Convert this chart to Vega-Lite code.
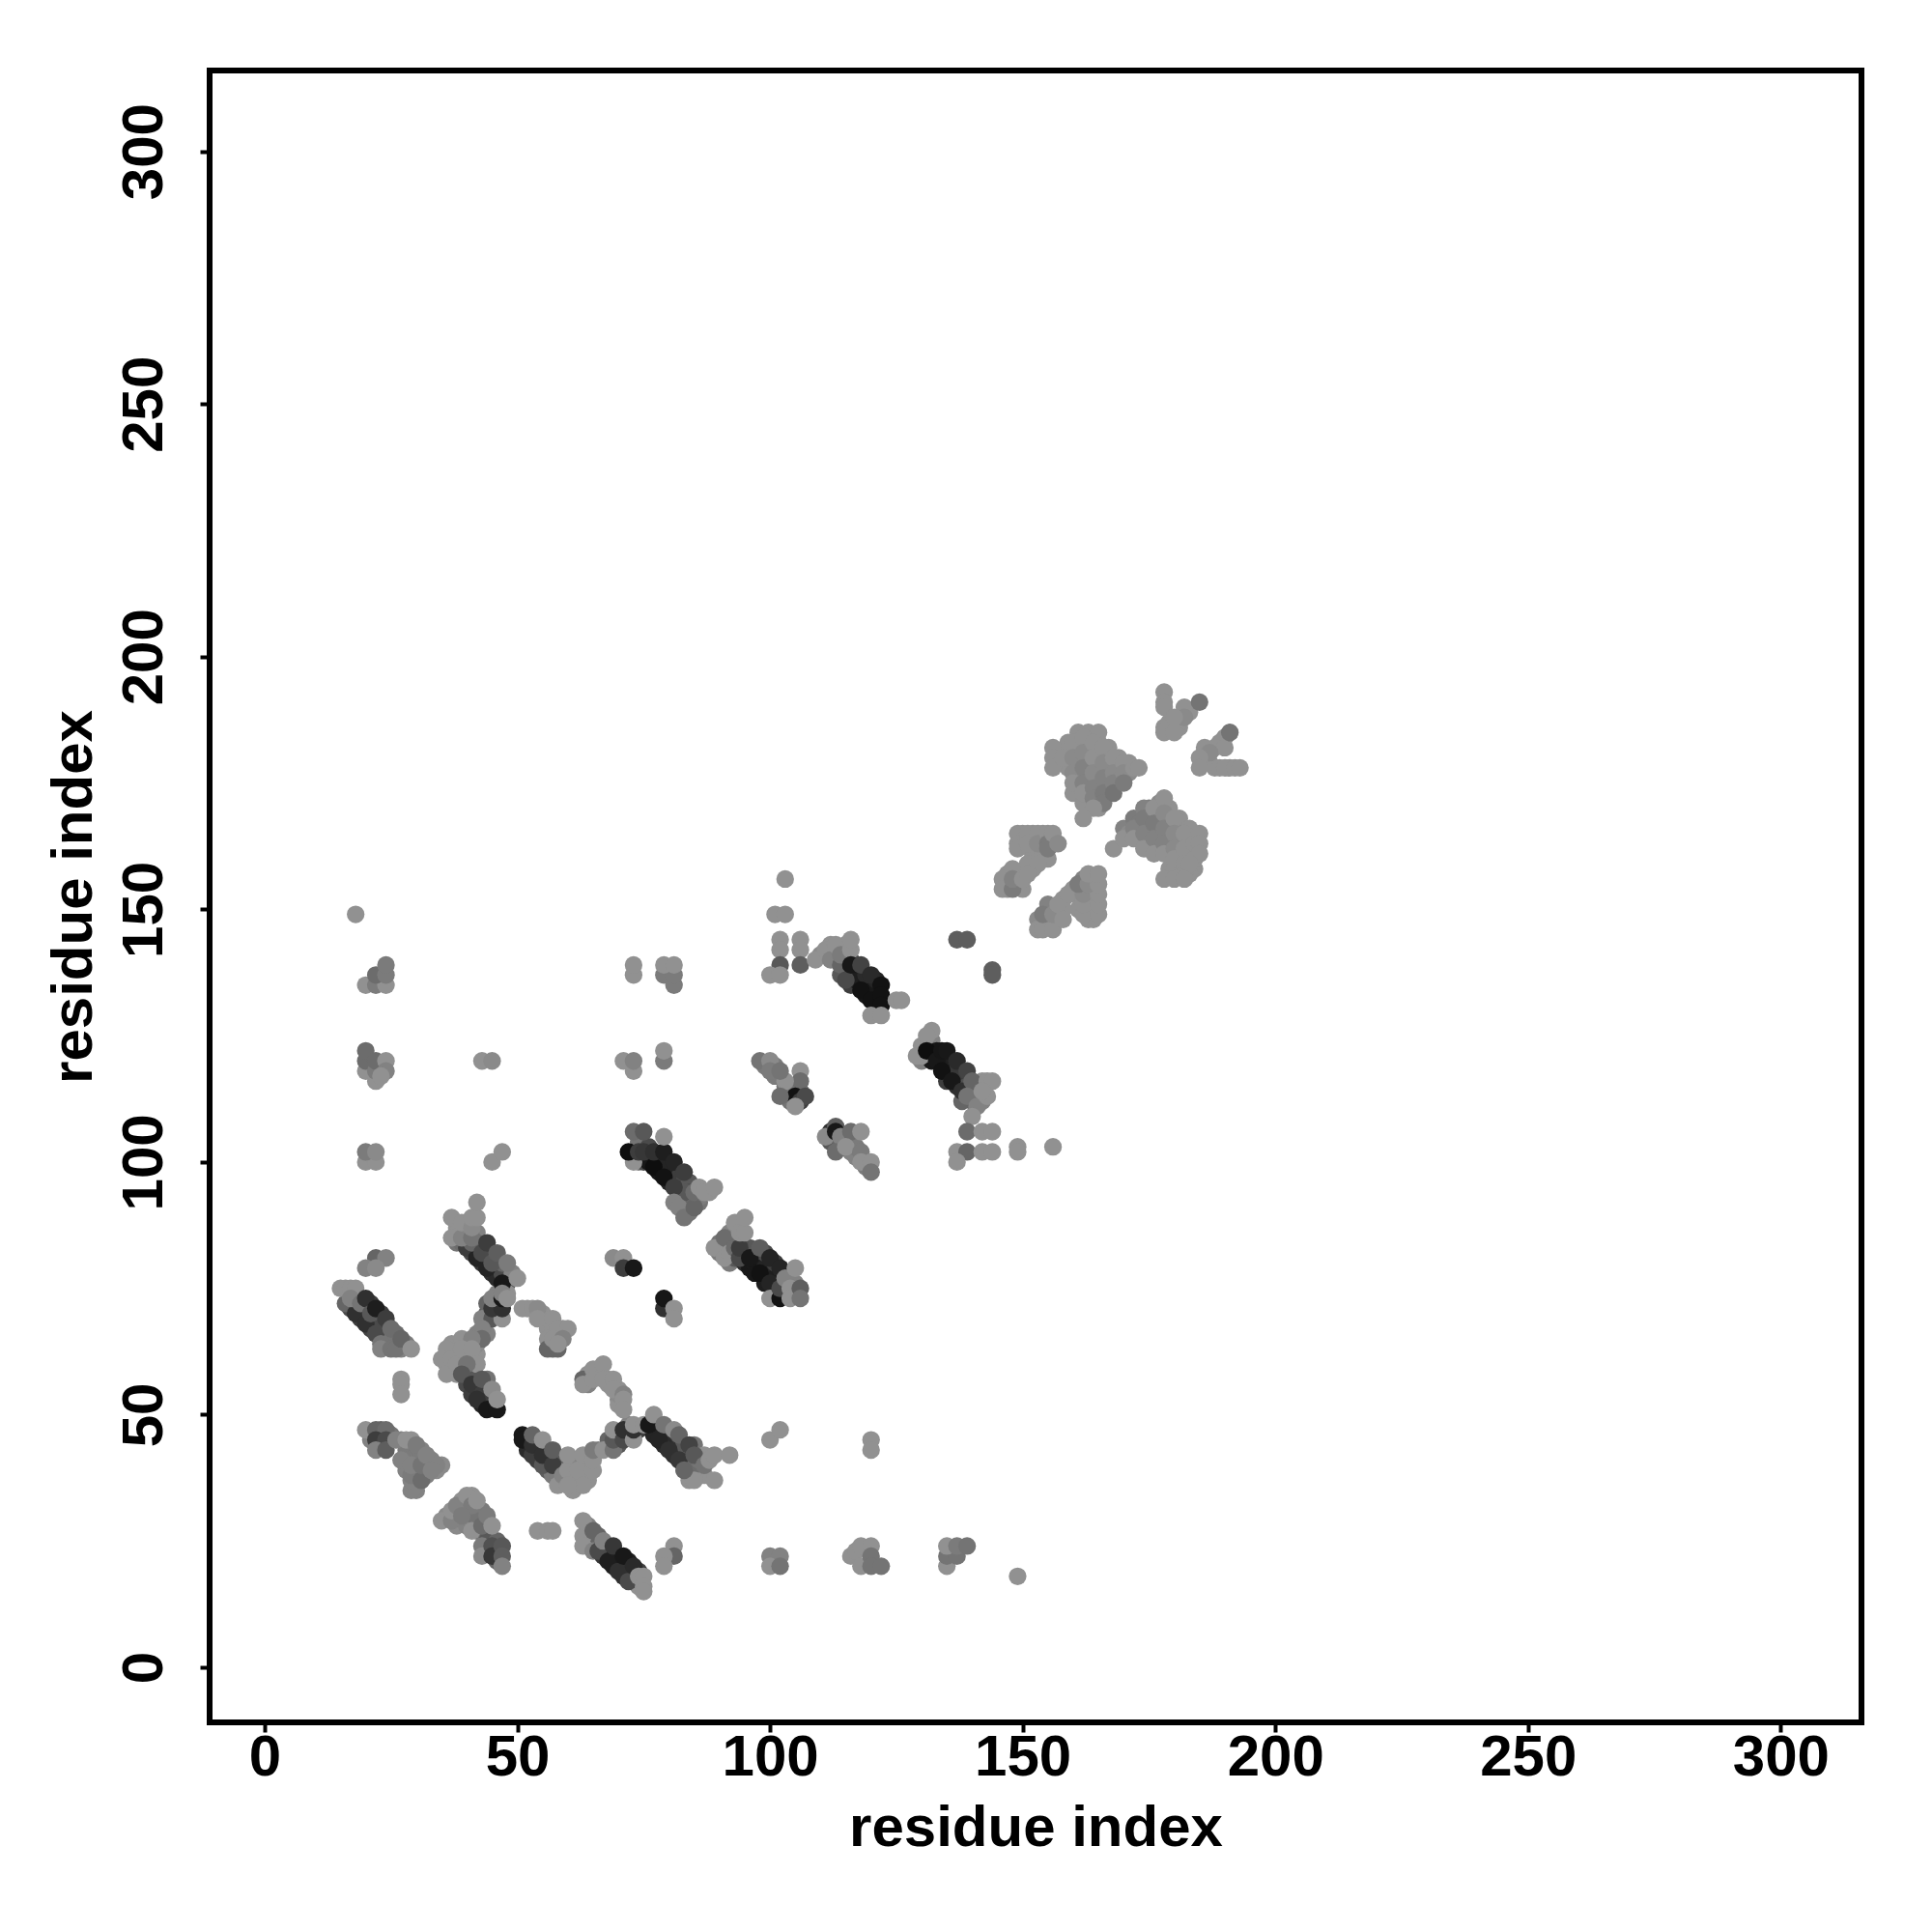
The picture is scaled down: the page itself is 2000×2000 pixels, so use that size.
{"$schema":"https://vega.github.io/schema/vega-lite/v6.json","width":1710,"height":1710,"autosize":{"type":"none"},"padding":{"left":217,"top":73,"right":73,"bottom":217},"background":"white",
"config":{"view":{"stroke":"black","strokeWidth":6,"fill":"white"}},
"data":{"values":[
{"x":17,"y":71,"v":0.5},{"x":19,"y":69,"v":0.4},{"x":21,"y":67,"v":0.45},{"x":23,"y":65,"v":0.7},{"x":24,"y":64,"v":0.8},{"x":19,"y":73,"v":0.7},{"x":20,"y":72,"v":0.5},{"x":21,"y":72,"v":0.4},{"x":22,"y":70,"v":0.4},{"x":23,"y":70,"v":0.4},{"x":24,"y":68,"v":0.5},{"x":25,"y":66,"v":0.7},{"x":26,"y":66,"v":0.75},{"x":26,"y":64,"v":0.85},{"x":27,"y":63,"v":0.9},{"x":24,"y":66,"v":0.7},{"x":23,"y":67,"v":0.6},{"x":22,"y":68,"v":0.5},{"x":25,"y":65,"v":0.8},{"x":28,"y":64,"v":0.85},
{"x":38,"y":84,"v":0.8},{"x":39,"y":84,"v":0.75},{"x":40,"y":85,"v":0.85},{"x":41,"y":82,"v":0.5},{"x":42,"y":83,"v":0.6},{"x":43,"y":80,"v":0.35},{"x":44,"y":81,"v":0.5},{"x":45,"y":78,"v":0.3},{"x":46,"y":79,"v":0.4},{"x":46,"y":77,"v":0.25},{"x":47,"y":78,"v":0.5},{"x":48,"y":76,"v":0.6},{"x":47,"y":80,"v":0.7},{"x":49,"y":78,"v":0.9},{"x":45,"y":82,"v":0.6},{"x":43,"y":84,"v":0.6},{"x":38,"y":87,"v":1},{"x":40,"y":87,"v":1},{"x":38,"y":86,"v":1},{"x":40,"y":86,"v":1},{"x":42,"y":86,"v":0.9},{"x":42,"y":84,"v":0.75},
{"x":44,"y":70,"v":0.6},{"x":46,"y":70,"v":0.5},{"x":46,"y":72,"v":0.4},{"x":44,"y":72,"v":0.7},{"x":48,"y":74,"v":1},{"x":46,"y":74,"v":0.9},
{"x":37,"y":64,"v":1},{"x":38,"y":62,"v":1},{"x":36,"y":60,"v":1},{"x":37,"y":59,"v":1},{"x":38,"y":58,"v":1},{"x":40,"y":62,"v":1},{"x":40,"y":64,"v":1},{"x":42,"y":62,"v":1},{"x":42,"y":64,"v":0.95},{"x":42,"y":66,"v":0.9},{"x":44,"y":66,"v":0.9},{"x":40,"y":58,"v":0.6},{"x":41,"y":58,"v":0.6},{"x":40,"y":56,"v":0.5},{"x":42,"y":55,"v":0.35},{"x":44,"y":53,"v":0.3},{"x":45,"y":52,"v":0.2},{"x":43,"y":52,"v":0.2},{"x":44,"y":55,"v":0.6},{"x":45,"y":53,"v":0.4},{"x":41,"y":54,"v":0.4},{"x":42,"y":57,"v":0.6},{"x":44,"y":57,"v":0.8},
{"x":52,"y":71,"v":1},{"x":55,"y":69,"v":1},{"x":56,"y":69,"v":1},{"x":56,"y":67,"v":1},{"x":57,"y":67,"v":1},{"x":59,"y":67,"v":1},{"x":55,"y":70,"v":1},{"x":58,"y":65,"v":0.9},{"x":56,"y":65,"v":1},{"x":57,"y":63,"v":0.7},
{"x":23,"y":47,"v":0.7},{"x":23,"y":45,"v":0.5},{"x":21,"y":45,"v":0.9},{"x":25,"y":46,"v":0.8},{"x":27,"y":45,"v":0.9},{"x":29,"y":45,"v":1},{"x":29,"y":44,"v":0.9},{"x":31,"y":43,"v":0.9},{"x":31,"y":42,"v":0.9},{"x":33,"y":41,"v":0.9},{"x":35,"y":40,"v":0.95},{"x":28,"y":43,"v":0.85},{"x":30,"y":42,"v":0.85},{"x":28,"y":41,"v":0.85},{"x":30,"y":39,"v":0.9},{"x":30,"y":37,"v":0.9},{"x":32,"y":39,"v":0.9},{"x":32,"y":38,"v":0.9},{"x":34,"y":39,"v":0.95},{"x":28,"y":39,"v":0.9},{"x":30,"y":35,"v":0.9},
{"x":36,"y":30,"v":0.95},{"x":38,"y":30,"v":0.95},{"x":38,"y":28,"v":0.95},{"x":40,"y":28,"v":0.9},{"x":40,"y":30,"v":0.9},{"x":40,"y":32,"v":0.9},{"x":42,"y":31,"v":0.85},{"x":43,"y":31,"v":0.85},{"x":42,"y":29,"v":0.8},{"x":42,"y":27,"v":0.8},{"x":44,"y":27,"v":0.7},{"x":44,"y":25,"v":0.6},{"x":46,"y":25,"v":0.7},{"x":46,"y":23,"v":0.5},{"x":44,"y":23,"v":0.5},{"x":46,"y":21,"v":0.7},{"x":39,"y":33,"v":1},{"x":41,"y":34,"v":1},
{"x":64,"y":28,"v":0.9},{"x":64,"y":25,"v":0.9},{"x":64,"y":26,"v":0.85},{"x":66,"y":26,"v":0.7},{"x":66,"y":25,"v":0.6},{"x":68,"y":24,"v":0.4},{"x":70,"y":22,"v":0.2},{"x":72,"y":21,"v":0.15},{"x":74,"y":19,"v":0.4},{"x":67,"y":22,"v":0.35},{"x":69,"y":20,"v":0.15},{"x":71,"y":18,"v":0.3},{"x":73,"y":17,"v":0.7},{"x":74,"y":16,"v":1},{"x":73,"y":18,"v":0.6},{"x":65,"y":25,"v":0.7},{"x":68,"y":22,"v":0.2},{"x":70,"y":21,"v":0.15},{"x":72,"y":19,"v":0.3},
{"x":52,"y":45,"v":0.15},{"x":52,"y":43,"v":0.25},{"x":54,"y":41,"v":0.4},{"x":54,"y":44,"v":0.3},{"x":56,"y":43,"v":0.4},{"x":56,"y":41,"v":0.4},{"x":58,"y":41,"v":0.6},{"x":56,"y":39,"v":0.65},{"x":57,"y":38,"v":0.85},{"x":58,"y":39,"v":0.75},{"x":58,"y":38,"v":0.85},{"x":60,"y":38,"v":1},{"x":60,"y":37,"v":1},{"x":62,"y":37,"v":1},{"x":59,"y":37,"v":1},{"x":61,"y":38,"v":1},{"x":61,"y":41,"v":0.9},{"x":62,"y":41,"v":0.9},{"x":64,"y":40,"v":1},{"x":64,"y":37,"v":1},{"x":64,"y":42,"v":0.85},{"x":66,"y":43,"v":0.9},{"x":68,"y":44,"v":0.7},{"x":68,"y":45,"v":0.7},{"x":70,"y":46,"v":0.4},{"x":72,"y":46,"v":0.5},{"x":70,"y":44,"v":0.6},{"x":72,"y":48,"v":0.9},{"x":74,"y":47,"v":0.4},
{"x":64,"y":58,"v":1},{"x":64,"y":56,"v":0.9},{"x":66,"y":59,"v":1},{"x":66,"y":58,"v":1},{"x":68,"y":57,"v":1},{"x":68,"y":56,"v":1},{"x":70,"y":55,"v":1},{"x":70,"y":53,"v":0.9},{"x":70,"y":52,"v":1},{"x":70,"y":54,"v":0.95},
{"x":78,"y":47,"v":0.4},{"x":80,"y":45,"v":0.35},{"x":82,"y":43,"v":0.3},{"x":84,"y":41,"v":0.45},{"x":77,"y":46,"v":0.2},{"x":79,"y":44,"v":0.25},{"x":81,"y":42,"v":0.3},{"x":83,"y":40,"v":0.5},{"x":85,"y":39,"v":0.75},{"x":86,"y":38,"v":0.9},{"x":87,"y":38,"v":1},{"x":85,"y":40,"v":0.75},{"x":86,"y":41,"v":0.8},{"x":86,"y":42,"v":0.9},{"x":83,"y":44,"v":0.6},{"x":85,"y":44,"v":0.8},{"x":87,"y":42,"v":1},
{"x":90,"y":84,"v":0.8},{"x":90,"y":82,"v":0.85},{"x":92,"y":80,"v":0.85},{"x":92,"y":84,"v":0.6},{"x":93,"y":81,"v":0.6},{"x":95,"y":80,"v":0.25},{"x":96,"y":79,"v":0.1},{"x":97,"y":80,"v":0.15},{"x":97,"y":78,"v":0.1},{"x":99,"y":79,"v":0.2},{"x":99,"y":76,"v":0.15},{"x":101,"y":75,"v":0.2},{"x":101,"y":77,"v":0.15},{"x":101,"y":80,"v":0.4},{"x":103,"y":75,"v":0.4},{"x":103,"y":74,"v":0.6},{"x":105,"y":74,"v":0.8},{"x":105,"y":76,"v":0.9},{"x":96,"y":83,"v":0.6},{"x":93,"y":86,"v":0.85},{"x":92,"y":86,"v":0.9},{"x":94,"y":84,"v":0.55},{"x":99,"y":82,"v":0.5},
{"x":74,"y":104,"v":0.8},{"x":74,"y":100,"v":0.9},{"x":75,"y":100,"v":0.5},{"x":76,"y":103,"v":0.5},{"x":76,"y":100,"v":0.1},{"x":78,"y":98,"v":0.1},{"x":78,"y":101,"v":0.2},{"x":80,"y":96,"v":0.2},{"x":80,"y":99,"v":0.2},{"x":82,"y":94,"v":0.5},{"x":82,"y":97,"v":0.4},{"x":83,"y":96,"v":0.5},{"x":84,"y":96,"v":0.6},{"x":84,"y":94,"v":0.55},{"x":83,"y":92,"v":0.7},{"x":84,"y":90,"v":0.8},{"x":84,"y":92,"v":0.7},{"x":86,"y":92,"v":0.8},{"x":85,"y":93,"v":0.75},{"x":86,"y":93,"v":0.85},{"x":83,"y":94,"v":0.6},{"x":88,"y":94,"v":1},
{"x":104,"y":113,"v":0.3},{"x":106,"y":114,"v":0.7},{"x":103,"y":114,"v":0.7},{"x":110,"y":141,"v":0.95},{"x":112,"y":142,"v":1},{"x":112,"y":143,"v":1},{"x":113,"y":141,"v":0.9},{"x":115,"y":143,"v":1},{"x":115,"y":140,"v":0.8},{"x":114,"y":137,"v":0.6},{"x":116,"y":137,"v":0.3},{"x":116,"y":135,"v":0.4},{"x":117,"y":138,"v":0.3},{"x":117,"y":136,"v":0.15},{"x":118,"y":136,"v":0.15},{"x":119,"y":135,"v":0.1},{"x":119,"y":133,"v":0.1},{"x":121,"y":133,"v":0.1},{"x":121,"y":131,"v":0.1},{"x":120,"y":134,"v":0.1},{"x":121,"y":136,"v":0.2},{"x":119,"y":137,"v":0.25},{"x":121,"y":130,"v":0.6},{"x":115,"y":141,"v":0.7},{"x":116,"y":140,"v":0.5},
{"x":130,"y":123,"v":1},{"x":130,"y":120,"v":0.9},{"x":132,"y":124,"v":0.9},{"x":132,"y":120,"v":0.1},{"x":133,"y":122,"v":0.1},{"x":132,"y":121,"v":0.1},{"x":134,"y":120,"v":0.1},{"x":135,"y":118,"v":0.1},{"x":136,"y":120,"v":0.15},{"x":135,"y":116,"v":0.4},{"x":136,"y":118,"v":0.2},{"x":137,"y":115,"v":0.3},{"x":137,"y":118,"v":0.35},{"x":138,"y":116,"v":0.4},{"x":139,"y":115,"v":0.55},{"x":140,"y":114,"v":0.7},{"x":141,"y":113,"v":0.8},{"x":141,"y":115,"v":0.8},{"x":141,"y":112,"v":0.85},{"x":142,"y":112,"v":0.9},{"x":142,"y":116,"v":1},{"x":140,"y":112,"v":0.8},{"x":138,"y":112,"v":0.7},
{"x":112,"y":106,"v":0.3},{"x":112,"y":104,"v":0.6},{"x":114,"y":103,"v":0.75},{"x":114,"y":104,"v":0.7},{"x":116,"y":103,"v":0.9},{"x":116,"y":102,"v":0.9},{"x":117,"y":101,"v":0.9},{"x":119,"y":100,"v":0.85},{"x":119,"y":99,"v":0.85},{"x":117,"y":103,"v":0.85},
{"x":99,"y":119,"v":0.85},{"x":101,"y":119,"v":0.85},{"x":101,"y":117,"v":0.85},{"x":103,"y":115,"v":0.8},{"x":103,"y":114,"v":0.8},{"x":104,"y":112,"v":0.8},{"x":105,"y":115,"v":0.85},{"x":106,"y":114,"v":0.8},
{"x":170,"y":166,"v":0.9},{"x":171,"y":165,"v":0.95},{"x":172,"y":168,"v":0.85},{"x":173,"y":167,"v":0.85},{"x":175,"y":170,"v":0.85},{"x":175,"y":166,"v":0.9},{"x":175,"y":163,"v":0.95},{"x":177,"y":171,"v":0.95},{"x":177,"y":168,"v":0.9},{"x":177,"y":165,"v":0.9},{"x":177,"y":162,"v":0.95},{"x":179,"y":170,"v":1},{"x":179,"y":167,"v":0.95},{"x":179,"y":164,"v":0.9},{"x":179,"y":161,"v":1},{"x":181,"y":168,"v":1},{"x":181,"y":165,"v":0.95},{"x":181,"y":162,"v":0.95},{"x":181,"y":159,"v":1},{"x":183,"y":166,"v":1},{"x":183,"y":163,"v":1},{"x":183,"y":161,"v":1},{"x":184,"y":158,"v":1},{"x":181,"y":157,"v":1},{"x":179,"y":158,"v":1},{"x":180,"y":158,"v":1},{"x":182,"y":160,"v":1},{"x":174,"y":170,"v":0.9},{"x":183,"y":157,"v":1},
{"x":159,"y":181,"v":1},{"x":159,"y":178,"v":1},{"x":161,"y":182,"v":1},{"x":161,"y":179,"v":0.95},{"x":161,"y":176,"v":0.95},{"x":163,"y":182,"v":1},{"x":163,"y":179,"v":0.95},{"x":163,"y":176,"v":0.9},{"x":163,"y":173,"v":0.95},{"x":165,"y":183,"v":1},{"x":165,"y":180,"v":0.95},{"x":165,"y":177,"v":0.9},{"x":165,"y":174,"v":0.85},{"x":165,"y":172,"v":0.9},{"x":167,"y":182,"v":1},{"x":167,"y":179,"v":0.95},{"x":167,"y":176,"v":0.9},{"x":167,"y":173,"v":0.85},{"x":169,"y":180,"v":1},{"x":169,"y":177,"v":0.95},{"x":169,"y":175,"v":0.85},{"x":171,"y":179,"v":1},{"x":171,"y":177,"v":0.95},{"x":163,"y":171,"v":1},{"x":165,"y":170,"v":1},{"x":160,"y":173,"v":1},{"x":162,"y":171,"v":1},
{"x":150,"y":165,"v":1},{"x":152,"y":165,"v":1},{"x":154,"y":165,"v":1},{"x":150,"y":163,"v":1},{"x":152,"y":163,"v":1},{"x":154,"y":163,"v":0.95},{"x":156,"y":163,"v":0.9},{"x":154,"y":160,"v":1},{"x":152,"y":161,"v":1},{"x":154,"y":161,"v":1},{"x":147,"y":155,"v":1},{"x":147,"y":157,"v":1},{"x":149,"y":157,"v":0.95},{"x":149,"y":155,"v":0.9},{"x":150,"y":154,"v":1},{"x":147,"y":154,"v":1},{"x":152,"y":158,"v":1},{"x":151,"y":159,"v":1},{"x":155,"y":160,"v":1},
{"x":155,"y":147,"v":0.95},{"x":155,"y":150,"v":0.9},{"x":155,"y":151,"v":0.9},{"x":153,"y":148,"v":0.95},{"x":153,"y":146,"v":1},{"x":156,"y":148,"v":0.95},{"x":157,"y":149,"v":1},{"x":158,"y":152,"v":1},{"x":160,"y":154,"v":1},{"x":162,"y":156,"v":0.9},{"x":164,"y":156,"v":0.95},{"x":164,"y":154,"v":0.95},{"x":164,"y":152,"v":1},{"x":164,"y":150,"v":1},{"x":163,"y":152,"v":1},{"x":163,"y":150,"v":1},{"x":161,"y":150,"v":1},{"x":163,"y":148,"v":1},{"x":164,"y":148,"v":1},{"x":155,"y":148,"v":0.95},{"x":160,"y":153,"v":1},{"x":158,"y":150,"v":1},
{"x":179,"y":186,"v":1},{"x":181,"y":186,"v":1},{"x":181,"y":187,"v":1},{"x":183,"y":189,"v":1},{"x":178,"y":186,"v":1},{"x":179,"y":187,"v":1},{"x":186,"y":180,"v":1},{"x":186,"y":179,"v":1},{"x":188,"y":182,"v":1},{"x":187,"y":179,"v":1},{"x":188,"y":178,"v":1},{"x":189,"y":178,"v":1},{"x":191,"y":178,"v":1},{"x":190,"y":184,"v":1},{"x":186,"y":182,"v":1},
{"x":16,"y":72,"v":0.7},{"x":18,"y":70,"v":0.3},{"x":20,"y":68,"v":0.3},{"x":22,"y":66,"v":0.5},{"x":23,"y":64,"v":0.8},{"x":23,"y":63,"v":0.9},{"x":25,"y":63,"v":0.8},{"x":26,"y":63,"v":0.8},{"x":15,"y":75,"v":1},{"x":16,"y":75,"v":1},{"x":17,"y":75,"v":1},{"x":18,"y":75,"v":1},{"x":17,"y":73,"v":0.9},{"x":19,"y":72,"v":0.8},{"x":20,"y":73,"v":0.3},{"x":21,"y":70,"v":0.6},{"x":22,"y":71,"v":0.15},{"x":24,"y":69,"v":0.4},{"x":25,"y":67,"v":0.75},{"x":27,"y":65,"v":0.7},{"x":29,"y":63,"v":1},
{"x":22,"y":81,"v":0.7},{"x":24,"y":81,"v":0.9},{"x":20,"y":79,"v":0.9},{"x":22,"y":79,"v":0.95},
{"x":40,"y":83,"v":0.4},{"x":42,"y":81,"v":0.2},{"x":44,"y":79,"v":0.2},{"x":47,"y":76,"v":0.1},{"x":41,"y":84,"v":0.7},{"x":43,"y":82,"v":0.5},{"x":45,"y":80,"v":0.6},{"x":37,"y":85,"v":1},{"x":39,"y":85,"v":0.9},{"x":41,"y":85,"v":0.8},{"x":44,"y":84,"v":0.4},{"x":46,"y":82,"v":0.65},{"x":48,"y":80,"v":0.85},{"x":50,"y":77,"v":1},{"x":37,"y":89,"v":1},{"x":39,"y":88,"v":1},{"x":41,"y":87,"v":0.95},{"x":41,"y":89,"v":1},{"x":42,"y":89,"v":1},{"x":42,"y":92,"v":1},
{"x":43,"y":69,"v":0.9},{"x":45,"y":69,"v":0.6},{"x":47,"y":69,"v":1},{"x":45,"y":71,"v":0.35},{"x":47,"y":71,"v":0.3},{"x":45,"y":73,"v":0.9},{"x":47,"y":73,"v":0.1},{"x":47,"y":74,"v":0.9},{"x":48,"y":73,"v":1},
{"x":43,"y":67,"v":0.9},{"x":43,"y":65,"v":0.75},{"x":39,"y":65,"v":1},{"x":41,"y":65,"v":0.9},{"x":36,"y":63,"v":1},{"x":35,"y":61,"v":1},{"x":37,"y":61,"v":1},{"x":36,"y":58,"v":1},{"x":38,"y":60,"v":1},{"x":39,"y":63,"v":1},{"x":41,"y":63,"v":1},{"x":42,"y":60,"v":1},{"x":40,"y":60,"v":0.8},{"x":39,"y":58,"v":0.6},{"x":41,"y":56,"v":0.35},{"x":43,"y":54,"v":0.4},{"x":42,"y":53,"v":0.3},{"x":44,"y":51,"v":0.1},{"x":46,"y":51,"v":0.1},{"x":43,"y":57,"v":0.6},{"x":45,"y":55,"v":0.95},{"x":46,"y":53,"v":1},
{"x":51,"y":71,"v":1},{"x":53,"y":71,"v":1},{"x":54,"y":71,"v":0.95},{"x":54,"y":69,"v":1},{"x":57,"y":69,"v":1},{"x":58,"y":67,"v":1},{"x":60,"y":67,"v":1},{"x":56,"y":63,"v":0.7},{"x":58,"y":63,"v":0.7},{"x":57,"y":65,"v":1},{"x":59,"y":65,"v":0.9},{"x":58,"y":64,"v":1},
{"x":27,"y":57,"v":1},{"x":27,"y":56,"v":1},{"x":27,"y":54,"v":1},
{"x":20,"y":47,"v":1},{"x":22,"y":47,"v":0.7},{"x":24,"y":47,"v":0.75},{"x":22,"y":45,"v":0.4},{"x":24,"y":45,"v":0.5},{"x":22,"y":43,"v":0.9},{"x":24,"y":43,"v":0.65},{"x":26,"y":45,"v":0.9},{"x":28,"y":45,"v":1},{"x":27,"y":41,"v":0.9},{"x":29,"y":35,"v":0.9},{"x":29,"y":37,"v":0.9},{"x":29,"y":38,"v":0.85},{"x":31,"y":37,"v":0.75},{"x":29,"y":40,"v":0.9},{"x":31,"y":40,"v":0.8},{"x":30,"y":44,"v":0.85},{"x":32,"y":42,"v":0.9},{"x":34,"y":40,"v":0.9},{"x":33,"y":39,"v":0.9},
{"x":35,"y":29,"v":1},{"x":37,"y":29,"v":0.9},{"x":37,"y":31,"v":1},{"x":38,"y":32,"v":0.9},{"x":40,"y":34,"v":1},{"x":41,"y":32,"v":0.85},{"x":39,"y":30,"v":0.85},{"x":41,"y":27,"v":1},{"x":42,"y":33,"v":1},{"x":43,"y":28,"v":0.75},{"x":44,"y":30,"v":0.85},{"x":45,"y":28,"v":1},{"x":43,"y":24,"v":0.85},{"x":43,"y":22,"v":0.95},{"x":45,"y":24,"v":0.55},{"x":45,"y":22,"v":0.35},{"x":47,"y":24,"v":0.6},{"x":47,"y":22,"v":0.65},{"x":47,"y":20,"v":0.9},
{"x":54,"y":27,"v":1},{"x":56,"y":27,"v":1},{"x":57,"y":27,"v":1},
{"x":63,"y":26,"v":1},{"x":63,"y":24,"v":1},{"x":65,"y":23,"v":0.9},{"x":66,"y":23,"v":0.5},{"x":68,"y":21,"v":0.15},{"x":70,"y":19,"v":0.3},{"x":72,"y":17,"v":0.5},{"x":63,"y":29,"v":1},{"x":65,"y":27,"v":0.7},{"x":67,"y":25,"v":0.9},{"x":69,"y":24,"v":0.35},{"x":71,"y":22,"v":0.1},{"x":73,"y":20,"v":0.25},{"x":74,"y":18,"v":1},{"x":75,"y":18,"v":1},{"x":75,"y":16,"v":1},{"x":75,"y":15,"v":1},
{"x":81,"y":24,"v":1},{"x":81,"y":22,"v":0.7},{"x":79,"y":22,"v":1},{"x":79,"y":20,"v":1},
{"x":51,"y":46,"v":0.1},{"x":51,"y":45,"v":0.1},{"x":53,"y":42,"v":0.4},{"x":55,"y":40,"v":0.6},{"x":53,"y":44,"v":0.3},{"x":55,"y":42,"v":0.3},{"x":57,"y":40,"v":0.4},{"x":58,"y":36,"v":1},{"x":59,"y":38,"v":0.9},{"x":60,"y":39,"v":1},{"x":61,"y":35,"v":1},{"x":62,"y":39,"v":1},{"x":63,"y":36,"v":1},{"x":60,"y":36,"v":1},{"x":53,"y":46,"v":0.7},{"x":55,"y":45,"v":1},{"x":57,"y":43,"v":0.65},{"x":60,"y":42,"v":1},{"x":63,"y":42,"v":1},{"x":65,"y":39,"v":1},{"x":65,"y":41,"v":1},{"x":65,"y":43,"v":0.85},{"x":67,"y":43,"v":1},{"x":69,"y":43,"v":0.8},{"x":69,"y":45,"v":0.6},{"x":69,"y":47,"v":1},{"x":71,"y":45,"v":0.5},{"x":71,"y":47,"v":0.3},{"x":73,"y":45,"v":1},{"x":73,"y":47,"v":0.3},{"x":73,"y":48,"v":1},{"x":75,"y":48,"v":1},
{"x":63,"y":57,"v":0.7},{"x":63,"y":56,"v":1},{"x":65,"y":59,"v":1},{"x":65,"y":57,"v":1},{"x":67,"y":60,"v":1},{"x":67,"y":57,"v":1},{"x":69,"y":57,"v":1},{"x":69,"y":55,"v":1},{"x":71,"y":54,"v":0.9},{"x":71,"y":53,"v":1},{"x":71,"y":51,"v":1},
{"x":76,"y":48,"v":0.1},{"x":78,"y":45,"v":0.2},{"x":80,"y":43,"v":0.3},{"x":82,"y":41,"v":0.35},{"x":84,"y":37,"v":1},{"x":85,"y":37,"v":1},{"x":83,"y":39,"v":0.7},{"x":77,"y":50,"v":1},{"x":79,"y":48,"v":0.8},{"x":81,"y":47,"v":0.95},{"x":82,"y":46,"v":0.7},{"x":84,"y":44,"v":0.45},{"x":85,"y":42,"v":0.6},{"x":87,"y":40,"v":0.8},{"x":88,"y":41,"v":1},{"x":89,"y":42,"v":1},{"x":92,"y":42,"v":1},{"x":89,"y":37,"v":1},
{"x":100,"y":45,"v":1},{"x":102,"y":47,"v":1},{"x":120,"y":45,"v":1},{"x":120,"y":43,"v":1},
{"x":100,"y":22,"v":0.9},{"x":102,"y":22,"v":0.9},{"x":100,"y":20,"v":1},{"x":102,"y":20,"v":0.8},
{"x":116,"y":22,"v":1},{"x":117,"y":23,"v":1},{"x":118,"y":24,"v":1},{"x":120,"y":24,"v":1},{"x":118,"y":20,"v":1},{"x":120,"y":22,"v":0.8},{"x":120,"y":20,"v":0.8},{"x":122,"y":20,"v":0.8},
{"x":135,"y":20,"v":1},{"x":135,"y":22,"v":0.8},{"x":137,"y":22,"v":0.8},{"x":135,"y":24,"v":1},{"x":137,"y":24,"v":0.85},{"x":139,"y":24,"v":0.8},{"x":149,"y":18,"v":1},
{"x":69,"y":81,"v":0.95},{"x":71,"y":81,"v":1},{"x":71,"y":79,"v":0.4},{"x":73,"y":79,"v":0.1},
{"x":79,"y":71,"v":0.3},{"x":79,"y":73,"v":0.08},{"x":81,"y":71,"v":1},{"x":81,"y":69,"v":1},
{"x":89,"y":83,"v":1},{"x":91,"y":81,"v":1},{"x":91,"y":85,"v":0.75},{"x":92,"y":82,"v":1},{"x":93,"y":83,"v":0.75},{"x":94,"y":81,"v":0.5},{"x":94,"y":83,"v":0.4},{"x":96,"y":81,"v":0.1},{"x":98,"y":78,"v":0.05},{"x":100,"y":76,"v":0.2},{"x":98,"y":83,"v":0.65},{"x":100,"y":81,"v":0.2},{"x":102,"y":79,"v":0.2},{"x":100,"y":73,"v":1},{"x":102,"y":73,"v":0.05},{"x":102,"y":75,"v":0.5},{"x":103,"y":77,"v":0.9},{"x":105,"y":79,"v":1},{"x":104,"y":75,"v":1},{"x":104,"y":73,"v":1},{"x":106,"y":75,"v":0.65},{"x":106,"y":73,"v":0.8},{"x":93,"y":88,"v":1},{"x":94,"y":86,"v":1},{"x":95,"y":86,"v":1},{"x":95,"y":89,"v":1},
{"x":73,"y":106,"v":0.75},{"x":73,"y":100,"v":1},{"x":75,"y":106,"v":0.6},{"x":72,"y":102,"v":0.03},{"x":74,"y":102,"v":0.4},{"x":77,"y":99,"v":0.02},{"x":79,"y":97,"v":0.05},{"x":81,"y":95,"v":0.4},{"x":75,"y":102,"v":0.35},{"x":77,"y":102,"v":0.3},{"x":79,"y":102,"v":0.15},{"x":79,"y":105,"v":1},{"x":81,"y":100,"v":0.2},{"x":83,"y":98,"v":0.4},{"x":81,"y":92,"v":0.9},{"x":82,"y":91,"v":0.9},{"x":83,"y":89,"v":0.8},{"x":85,"y":91,"v":0.7},{"x":85,"y":94,"v":0.75},{"x":86,"y":95,"v":1},{"x":87,"y":94,"v":1},{"x":89,"y":95,"v":1},
{"x":106,"y":118,"v":1},{"x":106,"y":116,"v":0.75},{"x":103,"y":116,"v":1},{"x":105,"y":113,"v":0.05},{"x":106,"y":112,"v":0.4},{"x":107,"y":113,"v":0.5},{"x":105,"y":111,"v":1},{"x":102,"y":113,"v":0.75},{"x":98,"y":120,"v":0.8},{"x":100,"y":120,"v":0.95},{"x":100,"y":118,"v":0.85},{"x":102,"y":118,"v":0.8},
{"x":103,"y":156,"v":1},{"x":101,"y":149,"v":1},{"x":103,"y":149,"v":1},{"x":102,"y":144,"v":1},{"x":102,"y":142,"v":1},{"x":102,"y":139,"v":0.6},{"x":100,"y":137,"v":1},{"x":102,"y":137,"v":1},{"x":106,"y":144,"v":1},{"x":106,"y":142,"v":1},{"x":106,"y":139,"v":0.65},
{"x":109,"y":140,"v":1},{"x":111,"y":142,"v":1},{"x":112,"y":140,"v":0.9},{"x":113,"y":143,"v":1},{"x":114,"y":139,"v":0.7},{"x":115,"y":136,"v":0.5},{"x":114,"y":141,"v":0.85},{"x":116,"y":142,"v":1},{"x":116,"y":139,"v":0.1},{"x":118,"y":134,"v":0.05},{"x":120,"y":132,"v":0.05},{"x":116,"y":144,"v":1},{"x":118,"y":139,"v":0.45},{"x":120,"y":137,"v":0.25},{"x":122,"y":135,"v":0.05},{"x":122,"y":133,"v":0.05},{"x":122,"y":131,"v":0.05},{"x":120,"y":129,"v":1},{"x":122,"y":129,"v":1},{"x":125,"y":132,"v":1},{"x":126,"y":132,"v":1},
{"x":137,"y":144,"v":0.65},{"x":139,"y":144,"v":0.65},{"x":144,"y":138,"v":0.65},{"x":144,"y":137,"v":0.65},
{"x":130,"y":121,"v":1},{"x":129,"y":121,"v":1},{"x":132,"y":126,"v":1},{"x":131,"y":125,"v":1},{"x":131,"y":122,"v":0.02},{"x":133,"y":120,"v":0.1},{"x":134,"y":118,"v":0.05},{"x":136,"y":116,"v":0.1},{"x":138,"y":114,"v":0.3},{"x":134,"y":122,"v":0.08},{"x":135,"y":122,"v":0.1},{"x":137,"y":120,"v":0.25},{"x":139,"y":118,"v":0.45},{"x":140,"y":116,"v":0.7},{"x":139,"y":113,"v":0.8},{"x":141,"y":111,"v":0.9},{"x":143,"y":113,"v":1},{"x":143,"y":116,"v":1},{"x":144,"y":116,"v":1},{"x":142,"y":114,"v":1},{"x":140,"y":109,"v":1},
{"x":139,"y":106,"v":0.75},{"x":142,"y":106,"v":1},{"x":144,"y":106,"v":1},{"x":137,"y":102,"v":1},{"x":139,"y":102,"v":0.7},{"x":142,"y":102,"v":1},{"x":144,"y":102,"v":1},{"x":149,"y":103,"v":1},{"x":149,"y":102,"v":1},{"x":156,"y":103,"v":1},{"x":137,"y":100,"v":1},
{"x":111,"y":105,"v":0.95},{"x":113,"y":107,"v":0.65},{"x":113,"y":106,"v":0.1},{"x":114,"y":105,"v":0.9},{"x":116,"y":106,"v":0.75},{"x":118,"y":106,"v":1},{"x":113,"y":102,"v":0.75},{"x":115,"y":103,"v":1},{"x":118,"y":102,"v":0.85},{"x":118,"y":100,"v":1},{"x":120,"y":100,"v":1},{"x":120,"y":98,"v":0.8},
{"x":18,"y":149,"v":1},{"x":20,"y":135,"v":1},{"x":22,"y":135,"v":0.85},{"x":24,"y":135,"v":1},{"x":22,"y":137,"v":0.75},{"x":24,"y":137,"v":0.85},{"x":24,"y":139,"v":0.85},
{"x":73,"y":137,"v":1},{"x":73,"y":139,"v":1},{"x":79,"y":137,"v":0.85},{"x":81,"y":135,"v":0.85},{"x":81,"y":137,"v":0.85},{"x":79,"y":139,"v":1},{"x":81,"y":139,"v":1},
{"x":20,"y":118,"v":1},{"x":20,"y":120,"v":0.75},{"x":20,"y":122,"v":0.75},{"x":22,"y":116,"v":1},{"x":22,"y":118,"v":0.85},{"x":22,"y":120,"v":0.75},{"x":24,"y":120,"v":1},{"x":24,"y":118,"v":0.9},{"x":23,"y":117,"v":1},
{"x":43,"y":120,"v":1},{"x":45,"y":120,"v":0.95},{"x":71,"y":120,"v":1},{"x":73,"y":118,"v":1},{"x":73,"y":120,"v":0.9},{"x":79,"y":120,"v":0.85},{"x":79,"y":122,"v":1},
{"x":20,"y":100,"v":1},{"x":22,"y":100,"v":1},{"x":20,"y":102,"v":0.85},{"x":22,"y":102,"v":0.95},{"x":45,"y":100,"v":1},{"x":47,"y":102,"v":1},
{"x":178,"y":193,"v":1},{"x":178,"y":191,"v":1},{"x":178,"y":190,"v":1},{"x":182,"y":190,"v":1},{"x":182,"y":188,"v":0.95},{"x":180,"y":188,"v":1},{"x":178,"y":185,"v":1},{"x":180,"y":185,"v":1},{"x":185,"y":191,"v":0.8},
{"x":189,"y":183,"v":1},{"x":190,"y":182,"v":1},{"x":187,"y":181,"v":0.95},{"x":185,"y":180,"v":1},{"x":185,"y":178,"v":1},{"x":190,"y":178,"v":1},{"x":192,"y":178,"v":1},{"x":193,"y":178,"v":1},{"x":191,"y":185,"v":0.8},
{"x":161,"y":185,"v":1},{"x":163,"y":185,"v":1},{"x":165,"y":185,"v":1},{"x":159,"y":183,"v":1},{"x":156,"y":182,"v":1},{"x":156,"y":180,"v":1},{"x":156,"y":178,"v":1},{"x":158,"y":180,"v":1},
{"x":160,"y":183,"v":1},{"x":160,"y":180,"v":0.95},{"x":160,"y":177,"v":0.95},{"x":160,"y":175,"v":1},{"x":162,"y":184,"v":1},{"x":162,"y":181,"v":0.95},{"x":162,"y":178,"v":0.9},{"x":162,"y":175,"v":0.9},{"x":162,"y":173,"v":1},{"x":164,"y":183,"v":1},{"x":164,"y":180,"v":1},{"x":164,"y":177,"v":0.95},{"x":164,"y":174,"v":0.9},{"x":164,"y":172,"v":0.9},{"x":166,"y":182,"v":1},{"x":166,"y":179,"v":0.95},{"x":166,"y":176,"v":0.9},{"x":166,"y":173,"v":0.85},{"x":166,"y":171,"v":0.85},{"x":168,"y":180,"v":1},{"x":168,"y":177,"v":0.95},{"x":168,"y":175,"v":0.9},{"x":168,"y":173,"v":0.8},{"x":170,"y":179,"v":1},{"x":170,"y":177,"v":0.95},{"x":170,"y":175,"v":0.85},{"x":172,"y":178,"v":1},{"x":173,"y":178,"v":1},{"x":164,"y":170,"v":1},{"x":162,"y":168,"v":1},
{"x":168,"y":162,"v":1},{"x":170,"y":164,"v":1},{"x":172,"y":166,"v":0.9},{"x":172,"y":164,"v":1},{"x":174,"y":168,"v":0.85},{"x":174,"y":165,"v":0.9},{"x":174,"y":162,"v":1},{"x":176,"y":170,"v":1},{"x":176,"y":167,"v":0.85},{"x":176,"y":164,"v":0.9},{"x":176,"y":161,"v":1},{"x":178,"y":172,"v":1},{"x":178,"y":169,"v":0.95},{"x":178,"y":166,"v":0.9},{"x":178,"y":163,"v":0.9},{"x":178,"y":161,"v":1},{"x":180,"y":168,"v":1},{"x":180,"y":165,"v":0.95},{"x":180,"y":162,"v":0.95},{"x":180,"y":160,"v":1},{"x":182,"y":165,"v":1},{"x":182,"y":162,"v":1},{"x":182,"y":159,"v":1},{"x":182,"y":157,"v":1},{"x":184,"y":163,"v":1},{"x":184,"y":160,"v":1},{"x":185,"y":165,"v":1},{"x":185,"y":163,"v":1},{"x":185,"y":161,"v":1},{"x":183,"y":159,"v":1},{"x":178,"y":156,"v":1},{"x":180,"y":156,"v":1},{"x":182,"y":156,"v":1},
{"x":149,"y":165,"v":1},{"x":149,"y":163,"v":1},{"x":149,"y":162,"v":1},{"x":151,"y":165,"v":1},{"x":151,"y":163,"v":1},{"x":153,"y":165,"v":1},{"x":153,"y":163,"v":0.95},{"x":155,"y":165,"v":1},{"x":155,"y":163,"v":0.85},{"x":155,"y":162,"v":0.85},{"x":156,"y":165,"v":1},{"x":157,"y":163,"v":0.95},{"x":153,"y":159,"v":1},
{"x":148,"y":158,"v":1},{"x":146,"y":156,"v":1},{"x":146,"y":154,"v":1},{"x":148,"y":154,"v":0.85},{"x":148,"y":156,"v":0.9},{"x":150,"y":156,"v":1},{"x":151,"y":157,"v":1},
{"x":154,"y":146,"v":1},{"x":156,"y":146,"v":1},{"x":154,"y":149,"v":0.85},{"x":156,"y":149,"v":0.95},{"x":157,"y":151,"v":1},{"x":158,"y":148,"v":1},{"x":159,"y":153,"v":1},{"x":162,"y":149,"v":1},{"x":165,"y":149,"v":1},{"x":162,"y":151,"v":1},{"x":165,"y":151,"v":1},{"x":162,"y":153,"v":0.95},{"x":165,"y":153,"v":1},{"x":161,"y":155,"v":0.85},{"x":163,"y":155,"v":0.95},{"x":165,"y":155,"v":1},{"x":163,"y":157,"v":1},{"x":165,"y":157,"v":1}
]},
"mark":{"type":"circle","size":335,"opacity":1},
"encoding":{
"x":{"field":"x","type":"quantitative","scale":{"domain":[-10.9,316],"nice":false,"zero":false},"axis":{"values":[0,50,100,150,200,250,300],"grid":false,"domain":false,"tickSize":10,"tickWidth":4,"tickColor":"black","labelFont":"Liberation Sans","labelFontWeight":"bold","labelFontSize":60,"labelColor":"black","labelPadding":-3,"title":"residue index","titleFont":"Liberation Sans","titleFontWeight":"bold","titleFontSize":60,"titleColor":"black","titlePadding":14,"labelFlush":false,"labelOverlap":false}},
"y":{"field":"y","type":"quantitative","scale":{"domain":[-10.9,316],"nice":false,"zero":false},"axis":{"values":[0,50,100,150,200,250,300],"grid":false,"domain":false,"tickSize":10,"tickWidth":4,"tickColor":"black","labelFont":"Liberation Sans","labelFontWeight":"bold","labelFontSize":60,"labelColor":"black","labelAngle":-90,"labelAlign":"center","labelBaseline":"bottom","labelPadding":27,"title":"residue index","titleFont":"Liberation Sans","titleFontWeight":"bold","titleFontSize":60,"titleColor":"black","titlePadding":12,"labelFlush":false,"labelOverlap":false}},
"color":{"field":"v","type":"quantitative","scale":{"domain":[0,1],"range":["#0a0a0a","#919191"]},"legend":null}
}}
